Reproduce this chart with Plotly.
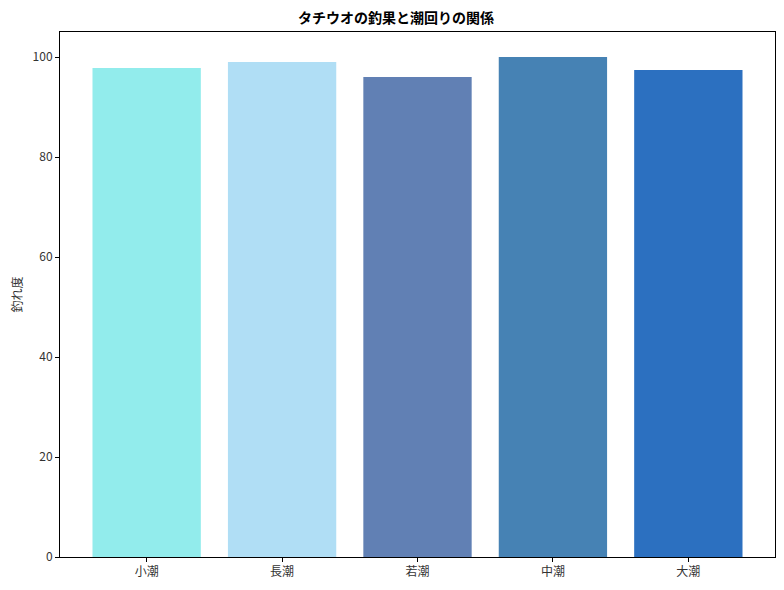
import plotly.graph_objects as go

tides = ['小潮', '長潮', '若潮', '中潮', '大潮']
catch_score = [97.8, 99.0, 96.0, 100.0, 97.4]
bar_colors = ['#92ECEC', '#B0DEF5', '#6180B4', '#4682B4', '#2C70C0']

font_jp = 'Noto Sans CJK JP'

fig = go.Figure(go.Bar(
    x=list(range(len(tides))), y=catch_score,
    marker=dict(color=bar_colors, line=dict(width=0)),
    width=0.8,
))

# page has an 8px body margin, so the figure is a bit smaller than the window
fig.update_layout(
    width=776, height=582,
    plot_bgcolor='white', paper_bgcolor='white',
    margin=dict(l=52, r=9, t=24, b=33),
    font=dict(family=font_jp, size=12, color='#333333'),
    title=dict(text='<b>タチウオの釣果と潮回りの関係</b>', x=0.5, xanchor='center',
               y=1 - 10 / 582, yanchor='middle', font=dict(size=14, color='black')),
    showlegend=False,
)
fig.update_xaxes(
    range=[-0.64, 4.64], tickvals=list(range(len(tides))), ticktext=tides,
    showline=True, linecolor='black', linewidth=1, mirror=True,
    ticks='outside', ticklen=4, tickcolor='black', showgrid=False, zeroline=False,
)
fig.update_yaxes(
    range=[0, 105], dtick=20, title=dict(text='釣れ度', standoff=12, font=dict(size=12)),
    automargin=False,
    showline=True, linecolor='black', linewidth=1, mirror=True,
    ticks='outside', ticklen=4, tickcolor='black', showgrid=False, zeroline=False,
)

fig.write_html("out.html")
